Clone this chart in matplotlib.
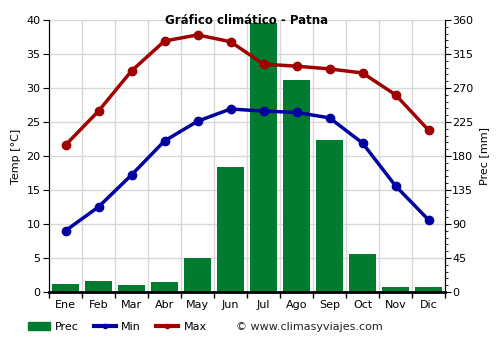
import numpy as np
import matplotlib
matplotlib.use('Agg')
import matplotlib.pyplot as plt
from matplotlib.patches import Patch
from matplotlib.lines import Line2D

months = ['Ene', 'Feb', 'Mar', 'Abr', 'May', 'Jun', 'Jul', 'Ago', 'Sep', 'Oct', 'Nov', 'Dic']
t_min = [9.0, 12.5, 17.2, 22.2, 25.1, 26.9, 26.6, 26.4, 25.6, 21.9, 15.6, 10.6]
t_max = [21.6, 26.6, 32.5, 36.9, 37.8, 36.8, 33.5, 33.2, 32.8, 32.2, 29.0, 23.8]
prec = [11, 15, 9, 13, 45, 165, 356, 280, 201, 50, 7, 7]

BAR_COLOR = '#007b2f'
MIN_COLOR = '#0000a0'
MAX_COLOR = '#a00000'

fig = plt.figure(figsize=(5, 3.5), dpi=100)
ax = fig.add_axes([0.098, 0.166, 0.792, 0.777])
ax2 = ax.twinx()

x = np.arange(len(months))

# precipitation bars on the right axis, drawn underneath the temperatures
ax2.bar(x, prec, width=0.8, color=BAR_COLOR, zorder=1)
ax2.set_ylim(0, 360)
ax2.set_yticks(np.arange(0, 361, 45))
ax2.set_yticks(np.arange(0, 361, 9), minor=True)
ax2.set_ylabel('Prec [mm]', fontsize=8)
ax2.tick_params(axis='y', labelsize=8, length=4, pad=1)
ax2.tick_params(axis='y', which='minor', length=2)

ax.set_zorder(ax2.get_zorder() + 1)
ax.patch.set_visible(False)
ax.plot(x, t_min, color=MIN_COLOR, lw=2.5, marker='o', ms=6, label='Min')
ax.plot(x, t_max, color=MAX_COLOR, lw=2.5, marker='o', ms=6, label='Max')
ax.set_ylim(0, 40)
ax.set_xlim(-0.5, 11.5)
ax.set_yticks(np.arange(0, 41, 5))
ax.set_xticks(x)
ax.set_xticklabels(months)
ax.set_ylabel('Temp [°C]', fontsize=8)
ax.tick_params(axis='both', labelsize=8, length=4, pad=2)
ax.tick_params(axis='x', length=0, pad=6)

# grid: horizontal every 5 degrees, vertical between months
for yv in np.arange(5, 41, 5):
    ax2.axhline(yv * 9, color='#d8d8d8', lw=1, zorder=0)
for xv in np.arange(0.5, 11.5, 1):
    ax2.axvline(xv, color='#d8d8d8', lw=1, zorder=0)
ax.set_xticks(np.arange(-0.5, 12, 1), minor=True)
ax.tick_params(axis='x', which='minor', length=4, width=1)

for a in (ax, ax2):
    a.spines['top'].set_visible(False)
ax.spines['bottom'].set_linewidth(2)
ax2.spines['bottom'].set_visible(False)

ax.set_title('Gráfico climático - Patna', fontsize=8.5, fontweight='bold', y=0.985, pad=0)

handles = [Patch(color=BAR_COLOR),
           Line2D([], [], color=MIN_COLOR, lw=3, marker='o', ms=3),
           Line2D([], [], color=MAX_COLOR, lw=3, marker='o', ms=3)]
fig.legend(handles, ['Prec', 'Min', 'Max'], loc='center left', bbox_to_anchor=(0.035, 0.066),
           ncol=3, frameon=False, fontsize=8, handlelength=2.0, handletextpad=0.5,
           columnspacing=1.3)
fig.text(0.472, 0.066, '© www.climasyviajes.com', fontsize=8, color='#222222', va='center')

fig.savefig('out.png')
